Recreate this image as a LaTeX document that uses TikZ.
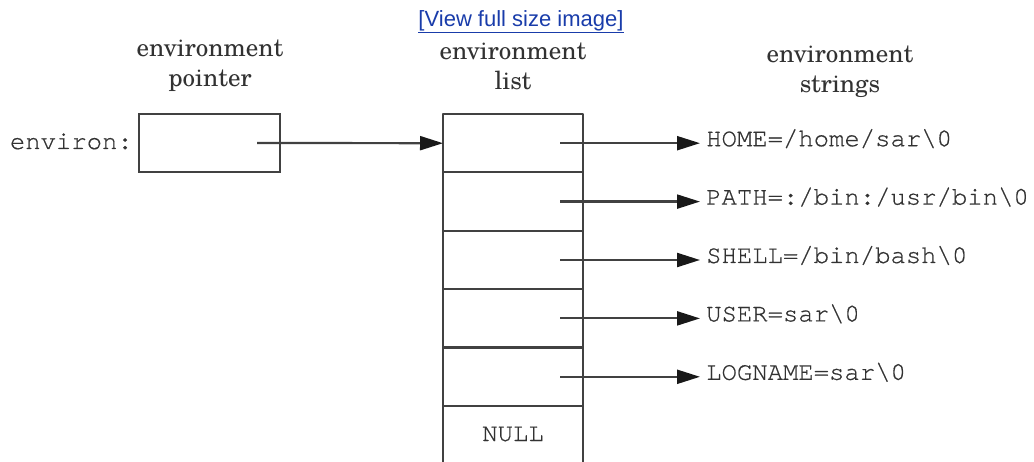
\documentclass[tikz,border=0pt]{standalone}
\usepackage{fontspec}
\setmainfont{texgyreschola-regular.otf}
\newfontfamily\cour[FakeBold=0.6]{texgyrecursor-regular.otf}
\newfontfamily\arialf{Liberation Sans}
\usetikzlibrary{arrows.meta,calc}
\definecolor{ink}{RGB}{50,50,50}
\definecolor{edge}{RGB}{65,65,65}
\definecolor{link}{RGB}{25,60,170}
\tikzset{
  lbl/.style={align=center, font=\fontsize{25}{30}\selectfont, text=ink, inner sep=0pt},
  mono/.style={font=\cour\fontsize{25.6}{30}\selectfont, text=ink, inner sep=0pt},
  ptrbox/.style={draw=edge, line width=2.2pt, minimum width=141pt, minimum height=58pt, inner sep=0pt, outer sep=0pt},
  cell/.style={minimum width=140pt, minimum height=58.4pt, inner sep=0pt, outer sep=0pt},
  arr/.style={draw=edge, line width=2.2pt, -{Triangle[length=23pt,width=14pt,color=black!90]}},
  strnode/.style={mono, anchor=west, inner xsep=6pt, text height=0.6em, text depth=0pt},
  edgeline/.style={draw=edge, line width=2.2pt}
}
\begin{document}
\begin{tikzpicture}[x=1pt,y=-1pt]
\useasboundingbox (0,0) rectangle (1034,462);
% header link
\node[font=\arialf\fontsize{22}{26}\selectfont, text=link, inner sep=0pt] (lnk) at (521,22) {\underline{[View full size image]}};
% column labels
\node[lbl] (lptr) at (210,66) {environment\\pointer};
\node[lbl] (llist) at (513,66) {environment\\list};
\node[lbl] (lstr) at (840,72) {environment\\strings};
% environ pointer
\node[ptrbox] (env) at (209.5,143) {};
\node[mono, anchor=base east] (envlbl) at (133,149) {environ:};
% list cells
\node[cell] (c1) at (513,143.2) {};
\node[cell] (c2) at (513,201.6) {};
\node[cell] (c3) at (513,260) {};
\node[cell] (c4) at (513,318.4) {};
\node[cell] (c5) at (513,376.8) {};
\node[cell, mono, minimum height=56pt, anchor=north] (c6) at (513,406) {NULL};
\draw[edgeline, line join=round] (c6.south west) -- (c1.north west) -- (c1.north east) -- (c6.south east);
\foreach \i in {1,...,5} \draw[edgeline] (c\i.south west) -- (c\i.south east);
% strings
\node[strnode] (s1) at (700,143.2) {HOME=/home/sar\textbackslash0};
\node[strnode] (s2) at (700,201.6) {PATH=:/bin:/usr/bin\textbackslash0};
\node[strnode] (s3) at (700,260) {SHELL=/bin/bash\textbackslash0};
\node[strnode] (s4) at (700,318.4) {USER=sar\textbackslash0};
\node[strnode] (s5) at (700,376.8) {LOGNAME=sar\textbackslash0};
% connectors
\coordinate (p0) at ($(env.east)+(-23,0)$);
\draw[arr] (p0) -- (c1.west);
\foreach \i in {1,...,5} {
  \coordinate (q\i) at ($(c\i.east)+(-23,0)$);
  \draw[arr] (q\i) -- (q\i -| s\i.west);
}
\end{tikzpicture}
\end{document}
